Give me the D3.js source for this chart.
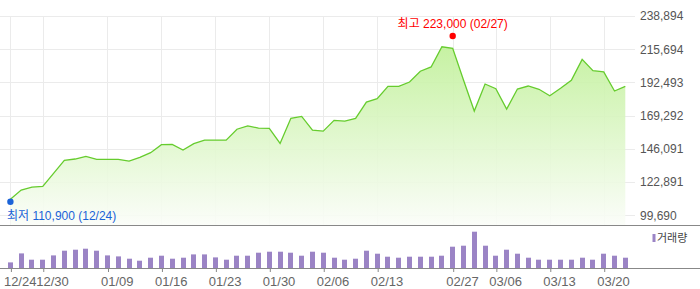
<!DOCTYPE html>
<html>
<head>
<meta charset="utf-8">
<script src="https://cdn.jsdelivr.net/npm/d3@7"></script>
<style>
  body { margin: 0; background: #fff; }
  text { font-family: "Liberation Sans", Arial, "Noto Sans CJK KR", sans-serif; }
</style>
</head>
<body>
<div id="view"></div>
<script>
var width = 700, height = 289;

// trading days (MM/DD)
var dates = ["12/24","12/26","12/29","12/30","01/02","01/05","01/06","01/07","01/08","01/09",
  "01/12","01/13","01/14","01/15","01/16","01/19","01/20","01/21","01/22","01/23",
  "01/26","01/27","01/28","01/29","01/30","02/02","02/03","02/04","02/05","02/06",
  "02/09","02/10","02/11","02/12","02/13","02/16","02/17","02/23","02/24","02/25",
  "02/26","02/27","03/03","03/04","03/05","03/06","03/09","03/10","03/11","03/12",
  "03/13","03/16","03/17","03/18","03/19","03/20","03/23","03/24"];

// closing price
var prices = [110900,117300,119400,119900,129000,138000,139000,140900,138800,138800,
  138800,137600,140200,143400,149000,149200,145300,149700,152200,152200,
  152200,159800,162200,160600,160400,149900,167400,168800,159200,158500,
  166000,165500,167400,178800,181100,189800,189800,192800,200300,203300,
  217400,216300,194200,172500,191400,188100,173900,187900,190000,187700,
  183200,188400,194000,208600,200700,199800,186500,189800];

// volume (shares)
var volumes = [56000,146000,83000,83000,126000,173000,183000,193000,173000,126000,
  116000,93000,73000,103000,123000,93000,103000,136000,136000,106000,
  83000,123000,123000,153000,163000,163000,153000,123000,163000,153000,
  103000,83000,93000,173000,143000,113000,103000,113000,113000,113000,
  123000,213000,223000,363000,223000,123000,183000,143000,103000,83000,
  83000,83000,83000,103000,83000,143000,123000,103000];

var tickDates = ["12/24","12/30","01/09","01/16","01/23","01/30","02/06","02/13","02/27","03/06","03/13","03/20"];
var priceTicks = [99690,122891,146091,169292,192493,215694,238894];

var lowInfo = { label: "최저 110,900 (12/24)", date: "12/24", value: 110900 };
var highInfo = { label: "최고 223,000 (02/27)", date: "02/27", value: 223000 };

var svg = d3.select("#view").append("svg")
  .attr("width", width)
  .attr("height", height);

var x = d3.scalePoint().domain(dates).range([10.4, 625.3]);
var y = d3.scaleLinear().domain([99690, 238894]).range([215.3, 16]);
var yv = d3.scaleLinear().domain([0, 400000]).range([268, 228]);

var defs = svg.append("defs");
var grad = defs.append("linearGradient")
  .attr("id", "areaGrad")
  .attr("x1", 0).attr("y1", 0).attr("x2", 0).attr("y2", 1)
  .attr("gradientUnits", "userSpaceOnUse")
  .attr("x1", 0).attr("y1", 16).attr("x2", 0).attr("y2", 226);
grad.append("stop").attr("offset", "0").attr("stop-color", "#b6ee88");
grad.append("stop").attr("offset", "1").attr("stop-color", "#fbfdf9");

// grid
var grid = svg.append("g");
grid.selectAll(".hgrid")
  .data(priceTicks).enter()
  .append("line")
  .attr("x1", 0).attr("x2", 635)
  .attr("y1", function(d) { return Math.round(y(d)) + 0.5; })
  .attr("y2", function(d) { return Math.round(y(d)) + 0.5; })
  .style("stroke", "#ebebeb");
grid.selectAll(".vgrid")
  .data(tickDates).enter()
  .append("line")
  .attr("x1", function(d) { return Math.round(x(d)) + 0.5; })
  .attr("x2", function(d) { return Math.round(x(d)) + 0.5; })
  .attr("y1", 16).attr("y2", 226)
  .style("stroke", "#ebebeb");

// area + line
var area = d3.area()
  .x(function(d, i) { return x(dates[i]); })
  .y0(226)
  .y1(function(d) { return y(d); });
var line = d3.line()
  .x(function(d, i) { return x(dates[i]); })
  .y(function(d) { return y(d); });

svg.append("path")
  .datum(prices)
  .attr("d", area)
  .style("fill", "url(#areaGrad)")
  .style("opacity", 0.9);

svg.append("path")
  .datum(prices)
  .attr("d", line)
  .style("fill", "none")
  .style("stroke", "#66cc2e")
  .style("stroke-width", 1.3);

// y axis on right
svg.append("g")
  .attr("transform", "translate(640,0)")
  .call(d3.axisRight(y).tickValues(priceTicks).tickSize(0).tickPadding(0)
    .tickFormat(d3.format(",")))
  .call(function(g) { g.select(".domain").remove(); })
  .selectAll("text")
  .style("font-family", "Liberation Sans, Arial, sans-serif")
  .style("font-size", "12px")
  .style("fill", "#555");

// separators
svg.append("line").attr("x1", 0).attr("x2", width).attr("y1", 225.5).attr("y2", 225.5)
  .style("stroke", "#888");

// volume bars
svg.selectAll(".vol")
  .data(volumes).enter()
  .append("rect")
  .attr("class", "vol")
  .attr("x", function(d, i) { return Math.round(x(dates[i]) - 2.5); })
  .attr("y", function(d) { return yv(d); })
  .attr("width", 5)
  .attr("height", function(d) { return 268 - yv(d); })
  .style("fill", "#9b84c5");

// x axis
var xAxis = svg.append("g")
  .attr("transform", "translate(0,268)")
  .call(d3.axisBottom(x).tickValues(tickDates).tickSize(4).tickPadding(5).tickSizeOuter(0));
xAxis.select(".domain").remove();
xAxis.selectAll(".tick line").style("stroke", "#888")
  .attr("transform", "translate(0.5,0)");
xAxis.selectAll("text")
  .attr("text-anchor", "start")
  .attr("x", -7)
  .style("font-family", "Liberation Sans, Arial, sans-serif")
  .style("font-size", "13px")
  .style("fill", "#666");
svg.append("line").attr("x1", 0).attr("x2", width).attr("y1", 268.5).attr("y2", 268.5)
  .style("stroke", "#888");

// legend
svg.append("rect").attr("x", 652.5).attr("y", 234).attr("width", 3).attr("height", 8)
  .style("fill", "#9b84c5");
svg.append("text").attr("x", 657).attr("y", 242)
  .text("거래량")
  .style("font-family", "Noto Sans CJK KR, sans-serif")
  .style("font-size", "11px")
  .style("fill", "#444");

// high / low markers
svg.append("circle")
  .attr("cx", x(highInfo.date)).attr("cy", y(highInfo.value) - 2.7).attr("r", 3.2)
  .style("fill", "#f00");
svg.append("text")
  .attr("x", x(highInfo.date)).attr("y", 27.5)
  .attr("text-anchor", "middle")
  .text(highInfo.label)
  .style("font-family", "Liberation Sans, Arial, Noto Sans CJK KR, sans-serif")
  .style("font-size", "12px")
  .style("fill", "#f00");

svg.append("circle")
  .attr("cx", x(lowInfo.date)).attr("cy", y(lowInfo.value) + 2.5).attr("r", 3.2)
  .style("fill", "#1a63d8");
svg.append("text")
  .attr("x", 7).attr("y", 219.5)
  .text(lowInfo.label)
  .style("font-family", "Liberation Sans, Arial, Noto Sans CJK KR, sans-serif")
  .style("font-size", "12px")
  .style("fill", "#1a63d8");
</script>
</body>
</html>
